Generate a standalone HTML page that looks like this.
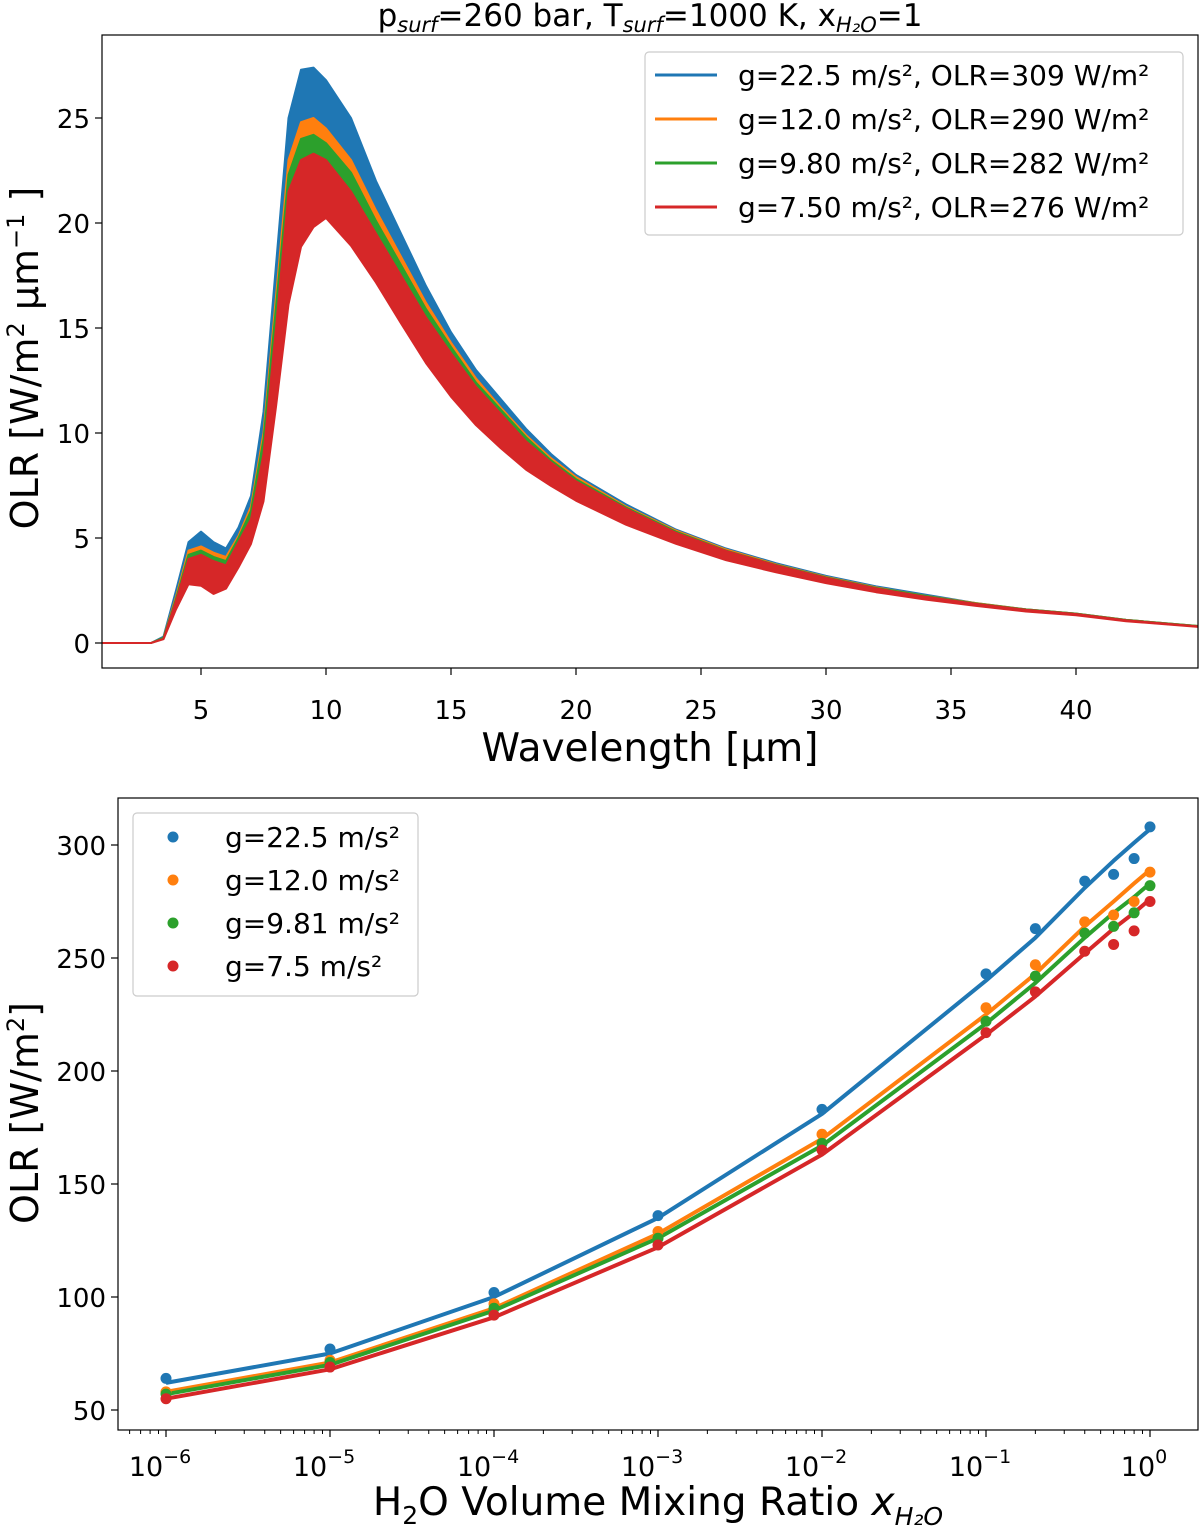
<!DOCTYPE html>
<html><head><meta charset="utf-8"><style>
html,body{margin:0;padding:0;background:#fff;}
svg{display:block;font-family:"DejaVu Sans","Liberation Sans",sans-serif;}
</style></head><body>
<svg id="fig" width="1200" height="1527" viewBox="0 0 1200 1527" xmlns="http://www.w3.org/2000/svg">
<defs><clipPath id="ctop"><rect x="102" y="35" width="1096" height="633"/></clipPath></defs>
<text x="650" y="26" font-size="31" text-anchor="middle">p<tspan font-size="21" font-style="italic" dy="6">surf</tspan><tspan dy="-6">=260 bar, T</tspan><tspan font-size="21" font-style="italic" dy="6">surf</tspan><tspan dy="-6">=1000 K, x</tspan><tspan font-size="21" font-style="italic" dy="6">H₂O</tspan><tspan dy="-6">=1</tspan></text>
<g id="topchart"></g>
<g id="botchart"></g>
</svg>
<script>
// ---- top chart data ----
const wl = [1,3,3.5,4,4.5,5,5.5,6,6.5,7,7.5,8,8.5,9,9.5,10,11,12,13,14,15,16,17,18,19,20,22,24,26,28,30,32,34,36,38,40,42,45];
const specBlue = [0,0,0.3,2.5,4.8,5.3,4.8,4.5,5.5,7,11,18,25,27.3,27.4,26.8,25,22,19.5,17,14.8,13,11.6,10.2,9,8,6.6,5.4,4.5,3.8,3.2,2.7,2.3,1.9,1.6,1.4,1.1,0.8];
const specOrange = [0,0,0.25,2.2,4.4,4.6,4.3,4.1,5.1,6.5,10,16.5,23,24.8,25,24.5,23,20.6,18.4,16.2,14.3,12.6,11.2,9.9,8.8,7.9,6.5,5.35,4.45,3.75,3.15,2.65,2.25,1.9,1.6,1.4,1.1,0.8];
const specGreen = [0,0,0.25,2.1,4.2,4.4,4.1,3.9,5,6.3,9.7,16,22.3,24,24.2,23.8,22.4,20.1,18,15.9,14.1,12.4,11.1,9.8,8.7,7.8,6.45,5.3,4.4,3.72,3.13,2.63,2.24,1.88,1.6,1.4,1.1,0.8];
const specRed = [0,0,0.2,2,4,4.2,3.9,3.7,4.8,5.9,9,15,21.5,23,23.3,23,21.5,19.5,17.5,15.5,13.8,12.2,10.9,9.6,8.6,7.7,6.4,5.25,4.38,3.7,3.1,2.6,2.2,1.86,1.58,1.38,1.08,0.78];
const dipFrac = [0,0,0.1,0.2,0.3,0.35,0.4,0.3,0.25,0.2,0.25,0.25,0.25,0.18,0.15,0.12,0.12,0.12,0.13,0.14,0.15,0.15,0.15,0.14,0.13,0.12,0.12,0.1,0.1,0.09,0.08,0.07,0.06,0.05,0.05,0.04,0.04,0.03];
const topXTicks = [5,10,15,20,25,30,35,40];
const topYTicks = [0,5,10,15,20,25];
const topLegend = ["g=22.5 m/s², OLR=309 W/m²","g=12.0 m/s², OLR=290 W/m²","g=9.80 m/s², OLR=282 W/m²","g=7.50 m/s², OLR=276 W/m²"];
// ---- bottom chart data ----
const mix = [1e-6,1e-5,1e-4,1e-3,1e-2,0.1,0.2,0.4,0.6,0.8,1];
const ptsBlue = [64,77,102,136,183,243,263,284,287,294,308];
const ptsOrange = [58,72,97,129,172,228,247,266,269,275,288];
const ptsGreen = [57,71,95,126,168,222,242,261,264,270,282];
const ptsRed = [55,69,92,123,165,217,235,253,256,262,275];
const fitBlue = [62,75,100,135,181,240,259,281,293,301,307];
const fitOrange = [58,71,95,128,170,225,243,264,275,283,289];
const fitGreen = [57,70,94,126,167,221,239,259,270,277,283];
const fitRed = [55,68,91,122,163,216,233,252,263,270,276];
const botXTicks = [-6,-5,-4,-3,-2,-1,0];
const botYTicks = [50,100,150,200,250,300];
const botLegend = ["g=22.5 m/s²","g=12.0 m/s²","g=9.81 m/s²","g=7.5 m/s²"];

const colors = ["#1f77b4","#ff7f0e","#2ca02c","#d62728"];
const NS = "http://www.w3.org/2000/svg";
function mk(parent, tag, attrs, text){const e=document.createElementNS(NS,tag);for(const k in attrs)e.setAttribute(k,attrs[k]);if(text!==undefined)e.textContent=text;parent.appendChild(e);return e;}

// ===== TOP =====
const topG = document.getElementById('topchart');
const tx = v => 102 + (v - 1.04) * 25;
const ty = v => 643 - v * 21;
[specBlue,specOrange,specGreen,specRed].forEach((s,i)=>{
  let d = "";
  wl.forEach((w,j)=>{d += (j?"L":"M") + tx(w).toFixed(1) + "," + ty(s[j]).toFixed(1);});
  for(let j=wl.length-1;j>=0;j--){d += "L" + tx(wl[j]).toFixed(1) + "," + ty(s[j]*(1-dipFrac[j])).toFixed(1);}
  d += "Z";
  const p = mk(topG,'path',{d:d,fill:colors[i],stroke:colors[i],'stroke-width':2,'stroke-linejoin':'round','clip-path':'url(#ctop)'});
  
  
});
const tf = mk(topG,'rect',{x:102,y:35,width:1096,height:633,fill:'none',stroke:'#000','stroke-width':1.2});


topXTicks.forEach(v=>{
  mk(topG,'line',{x1:tx(v),x2:tx(v),y1:668,y2:675,stroke:'#000','stroke-width':1.2});
  const t = mk(topG,'text',{x:tx(v),y:719,'font-size':26,'text-anchor':'middle'},String(v));
  
  
});
topYTicks.forEach(v=>{
  mk(topG,'line',{x1:95,x2:102,y1:ty(v),y2:ty(v),stroke:'#000','stroke-width':1.2});
  const t = mk(topG,'text',{x:90,y:ty(v)+10,'font-size':26,'text-anchor':'end'},String(v));
  
  
});
let xl = mk(topG,'text',{x:650,y:761,'font-size':39,'text-anchor':'middle'},"Wavelength [μm]");
 
let yl = mk(topG,'text',{x:0,y:0,'font-size':38,'text-anchor':'middle',transform:'translate(38,358) rotate(-90)'});
yl.innerHTML = 'OLR [W/m<tspan font-size="24" dy="-14">2</tspan><tspan dy="14"> μm</tspan><tspan font-size="24" dy="-14">−1</tspan><tspan dy="14"> ]</tspan>';
 
const lg = mk(topG,'rect',{x:645,y:52,width:538,height:183,rx:4,fill:'#fff',stroke:'#ccc','stroke-width':1.2});
 
topLegend.forEach((s,i)=>{
  const y = 75 + i*44;
  mk(topG,'line',{x1:655,x2:717,y1:y,y2:y,stroke:colors[i],'stroke-width':3});
  const t = mk(topG,'text',{x:738,y:y+10,'font-size':28},s);
   
});

// ===== BOTTOM =====
const botG = document.getElementById('botchart');
const bx = v => 1150 + Math.log10(v) * 164;
const by = v => 1410 - (v - 50) * 2.26;
const bf = mk(botG,'rect',{x:118,y:798,width:1080,height:632,fill:'none',stroke:'#000','stroke-width':1.2});
 
for(let e=-7;e<=0;e++){for(let m=2;m<=9;m++){const v=m*Math.pow(10,e);const X=bx(v);if(X>118&&X<1198)mk(botG,'line',{x1:X,x2:X,y1:1430,y2:1434,stroke:'#000','stroke-width':1});}}
botXTicks.forEach(e=>{
  const X = bx(Math.pow(10,e));
  mk(botG,'line',{x1:X,x2:X,y1:1430,y2:1437,stroke:'#000','stroke-width':1.2});
  const t = mk(botG,'text',{x:X-6,y:1476,'font-size':27,'text-anchor':'middle'});
  t.innerHTML = '10<tspan font-size="19" dy="-13">' + (e===0?'0':'−'+(-e)) + '</tspan>';
   
});
botYTicks.forEach(v=>{
  mk(botG,'line',{x1:111,x2:118,y1:by(v),y2:by(v),stroke:'#000','stroke-width':1.2});
  const t = mk(botG,'text',{x:106,y:by(v)+10,'font-size':26,'text-anchor':'end'},String(v));
   
});
[[fitBlue,ptsBlue],[fitOrange,ptsOrange],[fitGreen,ptsGreen],[fitRed,ptsRed]].forEach((pr,i)=>{
  const pl = mk(botG,'polyline',{points:mix.map((m,j)=>bx(m).toFixed(1)+','+by(pr[0][j]).toFixed(1)).join(' '),fill:'none',stroke:colors[i],'stroke-width':4,'stroke-linejoin':'round'});
   
});
[ptsBlue,ptsOrange,ptsGreen,ptsRed].forEach((p,i)=>{
  mix.forEach((m,j)=>{
    const c = mk(botG,'circle',{cx:bx(m),cy:by(p[j]),r:5.5,fill:colors[i]});
     
  });
});
let bxl = mk(botG,'text',{x:658,y:1515,'font-size':39,'text-anchor':'middle'});
bxl.innerHTML = 'H<tspan font-size="25" dy="9">2</tspan><tspan dy="-9">O Volume Mixing Ratio </tspan><tspan font-style="italic">x</tspan><tspan font-size="25" font-style="italic" dy="10">H₂O</tspan>';
 
let byl = mk(botG,'text',{x:0,y:0,'font-size':38,'text-anchor':'middle',transform:'translate(38,1113) rotate(-90)'});
byl.innerHTML = 'OLR [W/m<tspan font-size="24" dy="-14">2</tspan><tspan dy="14">]</tspan>';
 
const lg2 = mk(botG,'rect',{x:133,y:813,width:285,height:183,rx:4,fill:'#fff',stroke:'#ccc','stroke-width':1.2});
 
botLegend.forEach((s,i)=>{
  const y = 837 + i*43;
  mk(botG,'circle',{cx:173,cy:y,r:5.5,fill:colors[i]});
  const t = mk(botG,'text',{x:225,y:y+10,'font-size':28},s);
   
});
</script>
</body></html>
